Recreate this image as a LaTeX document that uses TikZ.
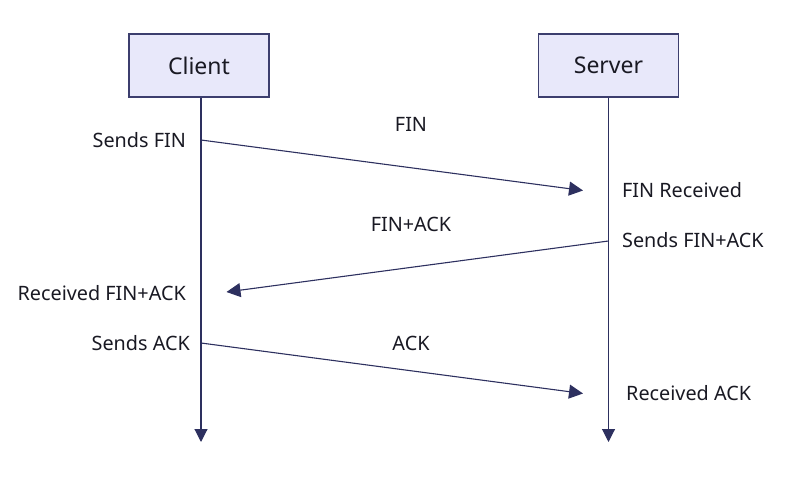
\documentclass[tikz,border=0pt]{standalone}
\usepackage{fontspec}
\setmainfont{Noto Sans}
\usetikzlibrary{arrows.meta}
\definecolor{boxfill}{RGB}{232,232,250}
\definecolor{boxdraw}{RGB}{60,62,110}
\definecolor{lineclr}{RGB}{45,48,95}
\definecolor{txt}{RGB}{25,25,35}
\begin{document}
\begin{tikzpicture}[x=1pt,y=-1pt,
  actor/.style={draw=boxdraw,fill=boxfill,line width=1.3pt,minimum width=140pt,minimum height=63pt,inner sep=0pt,font=\fontsize{23}{27}\selectfont,text=txt},
  lbl/.style={font=\fontsize{19.8}{23}\selectfont,text=txt,inner sep=0pt},
  life/.style={draw=lineclr,line width=1.1pt,-{Triangle[length=13pt,width=13pt]}},
  msg/.style={draw=lineclr,line width=1.1pt,-{Triangle[length=14pt,width=14pt]}}]
\useasboundingbox (0,0) rectangle (797,481);
\node[actor] (client) at (199,65.5) {Client};
\node[actor] (server) at (608.5,65.5) {Server};
\coordinate (cend) at (201,442);
\coordinate (send) at (608.5,442);
\draw[life] (client.south -| cend) -- (cend);
\draw[life] (server.south -| send) -- (send);
% message points
\coordinate (m1s) at (201,140);
\coordinate (m1e) at (583,190.5);
\coordinate (m2s) at (608.5,241);
\coordinate (m2e) at (226.5,292);
\coordinate (m3s) at (201,343);
\coordinate (m3e) at (583,393.5);
\draw[msg] (m1s) -- (m1e);
\draw[msg] (m2s) -- (m2e);
\draw[msg] (m3s) -- (m3e);
\node[lbl] (lfin) at (411,124) {FIN};
\node[lbl] (lfinack) at (411,224) {FIN+ACK};
\node[lbl] (lack) at (411,343) {ACK};
\node[lbl,anchor=east] (sfin) at (186,140) {Sends FIN};
\node[lbl,anchor=west] (rfin) at (622,190) {FIN Received};
\node[lbl,anchor=west] (sfinack) at (622,240) {Sends FIN+ACK};
\node[lbl,anchor=east] (rfinack) at (186,293) {Received FIN+ACK};
\node[lbl,anchor=east] (sack) at (190,343) {Sends ACK};
\node[lbl,anchor=west] (rack) at (626,393) {Received ACK};
\end{tikzpicture}
\end{document}
